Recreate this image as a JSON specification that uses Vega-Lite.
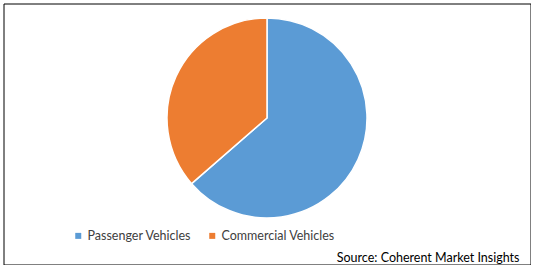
{
  "$schema": "https://vega.github.io/schema/vega-lite/v6.json",
  "width": 527,
  "height": 261,
  "padding": {"left": 3.5, "top": 3.5, "right": 0, "bottom": 0},
  "autosize": {"type": "none"},
  "background": "white",
  "view": {"stroke": "#000000", "strokeWidth": 1, "fill": "white"},
  "config": {
    "font": "Lato"
  },
  "title": {
    "text": "Source: Coherent Market Insights",
    "orient": "bottom",
    "anchor": "end",
    "frame": "group",
    "offset": -13,
    "dx": -11,
    "fontSize": 12.5,
    "fontWeight": "normal",
    "color": "#000000",
    "font": "Lato"
  },
  "data": {
    "values": [
      {"segment": "Passenger Vehicles", "share": 63.6},
      {"segment": "Commercial Vehicles", "share": 36.4}
    ]
  },
  "mark": {"type": "arc", "outerRadius": 100, "stroke": "white", "strokeWidth": 1.5, "yOffset": -16},
  "encoding": {
    "theta": {"field": "share", "type": "quantitative", "stack": true},
    "color": {
      "field": "segment",
      "type": "nominal",
      "sort": ["Passenger Vehicles", "Commercial Vehicles"],
      "scale": {"domain": ["Passenger Vehicles", "Commercial Vehicles"], "range": ["#5B9BD5", "#ED7D31"]},
      "legend": {
        "title": null,
        "orient": "none",
        "direction": "horizontal",
        "legendX": 68.5,
        "legendY": 226,
        "symbolType": "square",
        "symbolSize": 36,
        "symbolStrokeWidth": 0,
        "labelFontSize": 12.5,
        "labelFont": "Lato",
        "labelColor": "#404040",
        "columnPadding": 14,
        "labelOffset": 3
      }
    },
    "order": {"field": "share", "sort": "descending"}
  }
}
